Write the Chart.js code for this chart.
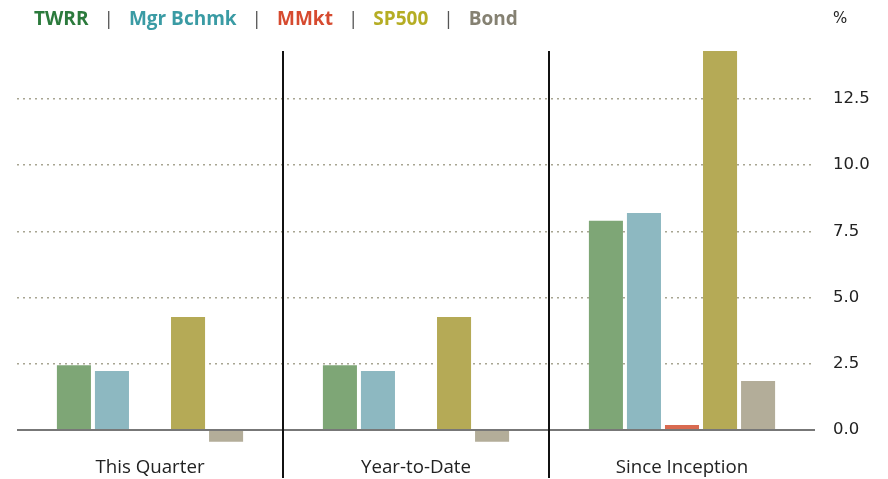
<!DOCTYPE html>
<html>
<head>
<meta charset="utf-8">
<script src="https://cdn.jsdelivr.net/npm/chart.js@4.4.1/dist/chart.umd.min.js"></script>
<style>
  html, body { margin: 0; padding: 0; background: #fff; }
  #wrap { position: relative; width: 888px; height: 479px; }
  #legend {
    position: absolute; left: 34px; top: 6px;
    font-family: "Open Sans", sans-serif; font-weight: 700; font-size: 19px;
    display: flex; gap: 0; white-space: nowrap; line-height: 24px;
  }
  #legend .sep { color: #555; font-weight: 400; margin: 0 15px; }
  #unit {
    position: absolute; left: 833px; top: 6px;
    font-family: "DejaVu Sans", sans-serif; font-size: 15px; color: #222; line-height: 24px;
  }
</style>
</head>
<body>
<div id="wrap">
  <canvas id="chart" width="888" height="479"></canvas>
  <div id="legend"></div>
  <div id="unit">%</div>
</div>
<script>
const categories = ["This Quarter", "Year-to-Date", "Since Inception"];
const seriesNames = ["TWRR", "Mgr Bchmk", "MMkt", "SP500", "Bond"];
const twrr = [2.45, 2.45, 7.9];
const mgrBchmk = [2.23, 2.23, 8.19];
const mmkt = [0.02, 0.02, 0.19];
const sp500 = [4.27, 4.27, 14.3];
const bond = [-0.44, -0.44, 1.85];
const yTicks = [0, 2.5, 5, 7.5, 10, 12.5];

const barColors = ["#7ea676", "#8db8c1", "#d96a50", "#b5aa56", "#b3ad99"];
const textColors = ["#2b7a3c", "#3a9ba4", "#d64a2f", "#b5ad24", "#858172"];

// legend: coloured names separated by pipes
const legendEl = document.getElementById("legend");
seriesNames.forEach((name, i) => {
  if (i > 0) {
    const s = document.createElement("span");
    s.className = "sep";
    s.textContent = "|";
    legendEl.appendChild(s);
  }
  const t = document.createElement("span");
  t.style.color = textColors[i];
  t.textContent = name;
  legendEl.appendChild(t);
});

// zero line on top of bars + vertical dividers between categories
const overlay = {
  id: "overlay",
  afterDatasetsDraw(chart) {
    const { ctx, chartArea, scales } = chart;
    const y0 = scales.y.getPixelForValue(0);
    ctx.save();
    ctx.strokeStyle = "#777";
    ctx.lineWidth = 2;
    ctx.beginPath();
    ctx.moveTo(chartArea.left, y0);
    ctx.lineTo(chartArea.right, y0);
    ctx.stroke();

    ctx.strokeStyle = "#111";
    ctx.lineWidth = 2;
    for (let i = 1; i < categories.length; i++) {
      const x = Math.round((scales.x.getPixelForValue(i - 1) + scales.x.getPixelForValue(i)) / 2);
      ctx.beginPath();
      ctx.moveTo(x, chartArea.top);
      ctx.lineTo(x, chart.height - 1);
      ctx.stroke();
    }
    ctx.restore();
  }
};

const series = [twrr, mgrBchmk, mmkt, sp500, bond];

new Chart(document.getElementById("chart"), {
  type: "bar",
  data: {
    labels: categories,
    datasets: series.map((d, i) => ({
      label: seriesNames[i],
      data: d,
      backgroundColor: barColors[i],
      borderWidth: 0,
      categoryPercentage: 0.715,
      barPercentage: 0.895,
    })),
  },
  options: {
    responsive: false,
    animation: false,
    layout: { padding: { top: 51, left: 17, right: 0, bottom: 2 } },
    plugins: { legend: { display: false }, tooltip: { enabled: false } },
    scales: {
      x: {
        grid: { display: false, drawTicks: false },
        border: { display: false },
        afterFit: (scale) => {
          scale.height = 31;
        },
        ticks: {
          color: "#222",
          padding: 10,
          maxRotation: 0,
          font: { family: "Open Sans", size: 18.7 },
        },
      },
      y: {
        position: "right",
        min: -0.6,
        max: 14.3,
        afterBuildTicks: (scale) => {
          scale.ticks = yTicks.map((v) => ({ value: v }));
        },
        afterFit: (scale) => {
          scale.width = 73;
        },
        border: { display: false, dash: [2, 4] },
        grid: {
          drawTicks: false,
          color: (c) => (c.tick && c.tick.value === 0 ? "rgba(0,0,0,0)" : "#a8a592"),
          lineWidth: 1.5,
        },
        ticks: {
          color: "#222",
          padding: 18,
          font: { family: "DejaVu Sans", size: 16.5 },
          callback: (v) => Number(v).toFixed(1),
        },
      },
    },
  },
  plugins: [overlay],
});
</script>
</body>
</html>
